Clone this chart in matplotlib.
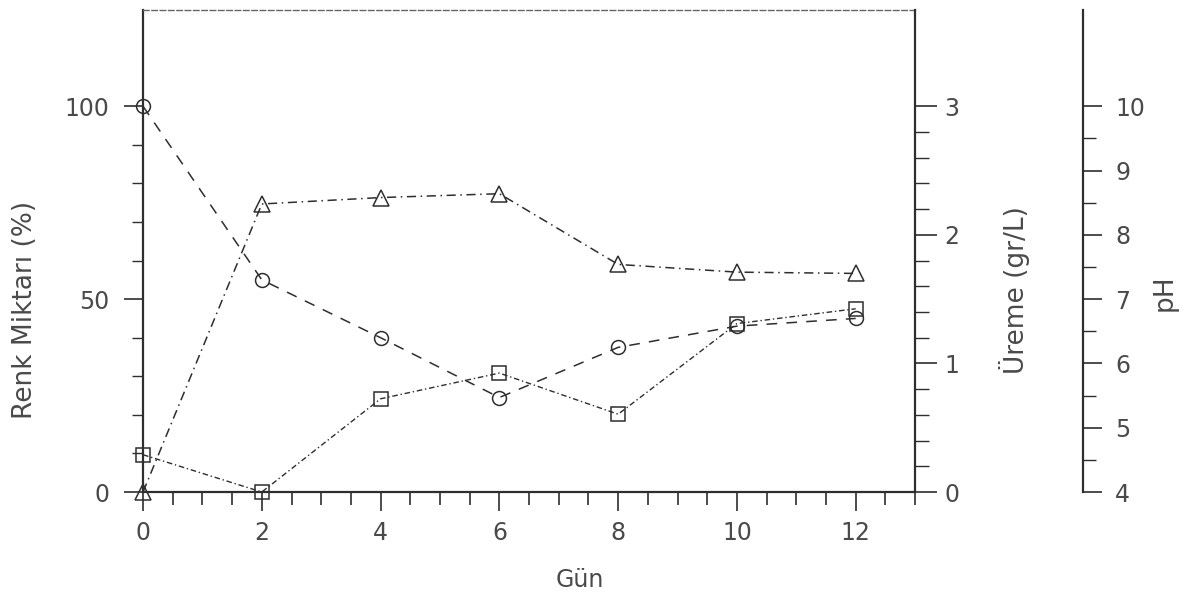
import numpy as np
import matplotlib.pyplot as plt
from matplotlib.ticker import MultipleLocator, FixedLocator

# ---------------------------
# Measurements per day
# ---------------------------
gun = [0, 2, 4, 6, 8, 10, 12]
renk = [100, 55, 40, 24.5, 37.5, 43, 45]          # Renk Miktarı (%)
ureme = [0, 2.24, 2.29, 2.32, 1.77, 1.71, 1.70]   # Üreme (gr/L)
ph = [4.58, 4.0, 5.45, 5.85, 5.21, 6.62, 6.85]    # pH

ink = '#2e2e2e'
txt = '#4a4a4a'
fs = 17      # tick labels
lfs = 19     # axis titles

plt.rcParams['font.family'] = 'DejaVu Sans'

fig = plt.figure(figsize=(11.97, 5.99), dpi=100)
ax = fig.add_axes([0.1195, 0.1786, 0.645, 0.805])
ax2 = ax.twinx()
ax3 = ax.twinx()

# ---------------------------
# Axes limits / ticks
# ---------------------------
ax.set_xlim(0, 13)
ax.set_ylim(0, 125)
ax2.set_ylim(0, 3.75)
ax3.set_ylim(4, 11.5)

ax.xaxis.set_major_locator(MultipleLocator(2))
ax.xaxis.set_minor_locator(MultipleLocator(0.5))
ax.set_xticks([0, 2, 4, 6, 8, 10, 12])
ax.set_yticks([0, 50, 100])
ax.yaxis.set_minor_locator(FixedLocator(np.arange(10, 100, 10)))
ax2.set_yticks([0, 1, 2, 3])
ax2.yaxis.set_minor_locator(FixedLocator(np.arange(0.2, 3.0, 0.2)))
ax3.set_yticks([4, 5, 6, 7, 8, 9, 10])
ax3.yaxis.set_minor_locator(FixedLocator(np.arange(4.5, 10, 0.5)))

ax.tick_params(axis='x', which='major', direction='out', length=14, width=1.2,
               pad=7, labelsize=fs, colors=ink, labelcolor=txt)
ax.tick_params(axis='x', which='minor', direction='out', length=9, width=1.2, colors=ink)
ax.tick_params(axis='y', which='major', direction='out', length=14, width=1.2,
               pad=10, labelsize=fs, colors=ink, labelcolor=txt)
ax.tick_params(axis='y', which='minor', direction='out', length=8, width=1.0, colors=ink)
ax2.tick_params(axis='y', which='major', direction='out', length=16, width=1.2,
                pad=5, labelsize=fs, colors=ink, labelcolor=txt)
ax2.tick_params(axis='y', which='minor', direction='out', length=10, width=1.0, colors=ink)
ax3.tick_params(axis='y', which='major', direction='out', length=14, width=1.2,
                pad=9, labelsize=fs, colors=ink, labelcolor=txt)
ax3.tick_params(axis='y', which='minor', direction='out', length=9, width=1.0, colors=ink)

# ---------------------------
# Spines
# ---------------------------
for s in ['left', 'bottom']:
    ax.spines[s].set_linewidth(1.6)
    ax.spines[s].set_color(ink)
ax.spines['top'].set_linewidth(1.0)
ax.spines['top'].set_color('#666666')
ax.spines['top'].set_linestyle((0, (4, 2)))
ax.spines['right'].set_visible(False)
for s in ['left', 'bottom', 'top']:
    ax2.spines[s].set_visible(False)
    ax3.spines[s].set_visible(False)
ax2.spines['right'].set_linewidth(1.6)
ax2.spines['right'].set_color(ink)
ax3.spines['right'].set_position(('axes', 1.2176))
ax3.spines['right'].set_linewidth(1.6)
ax3.spines['right'].set_color(ink)

# ---------------------------
# Series
# ---------------------------
ax.plot(gun, renk, color=ink, lw=1.1, ls=(0, (7, 6)),
        marker='o', ms=10, mfc='none', mec=ink, mew=1.1, clip_on=False, zorder=5)
ax2.plot(gun, ureme, color=ink, lw=1.1, ls=(0, (6, 3, 1, 3)),
         marker='^', ms=11, mfc='none', mec=ink, mew=1.1, clip_on=False, zorder=5)
ax3.plot(gun, ph, color=ink, lw=1.0, ls=(0, (4, 2, 1, 2)),
         marker='s', ms=10, mfc='none', mec=ink, mew=1.1, clip_on=False, zorder=5)

# ---------------------------
# Labels
# ---------------------------
fig.text(580 / 1197, 1 - 580 / 599, 'Gün', ha='center', va='center', fontsize=17, color=txt)
fig.text(25 / 1197, 1 - 310 / 599, 'Renk Miktarı (%)', ha='center', va='center',
         rotation=90, fontsize=lfs, color=txt)
fig.text(1014 / 1197, 1 - 290 / 599, 'Üreme (gr/L)', ha='center', va='center',
         rotation=90, fontsize=lfs, color=txt)
fig.text(1165 / 1197, 1 - 293 / 599, 'pH', ha='center', va='center',
         rotation=90, fontsize=lfs, color=txt)

fig.savefig('out.png', dpi=100)
